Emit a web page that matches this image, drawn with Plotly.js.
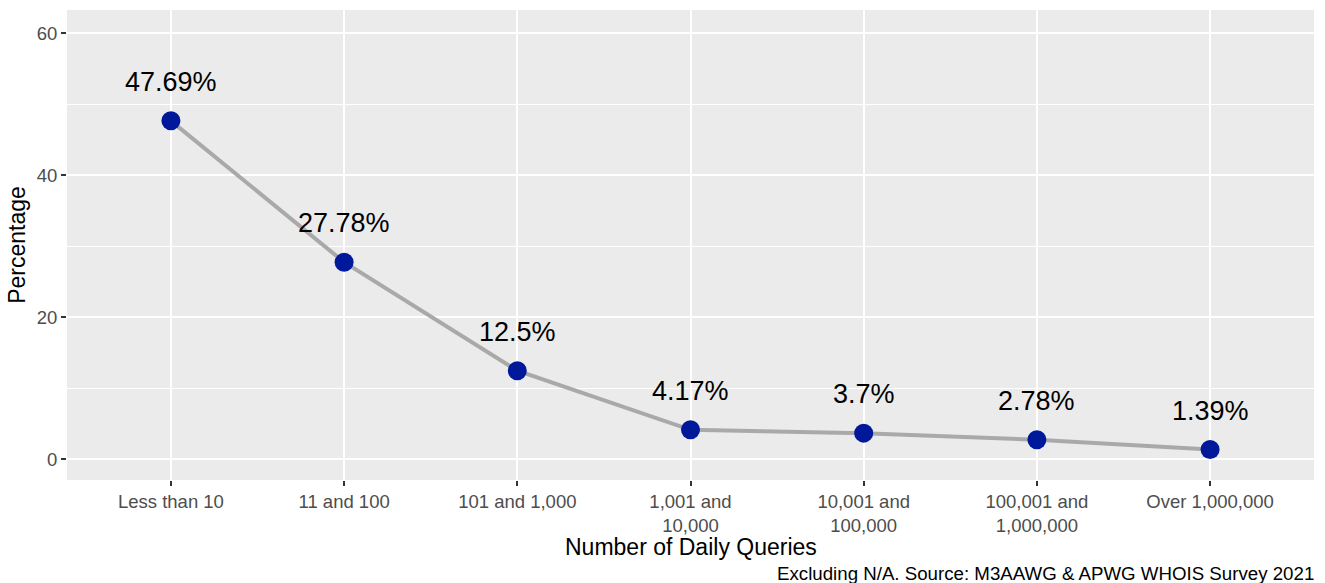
<!DOCTYPE html>
<html>
<head>
<meta charset="utf-8">
<script src="https://cdn.plot.ly/plotly-3.0.1.min.js"></script>
<style>html,body{margin:0;padding:0;background:#fff;}#chart{width:1325px;height:583px;}</style>
</head>
<body>
<div id="chart"></div>
<script>
const categories = ["Less than 10", "11 and 100", "101 and 1,000", "1,001 and 10,000", "10,001 and 100,000", "100,001 and 1,000,000", "Over 1,000,000"];
const tickLabels = ["Less than 10", "11 and 100", "101 and 1,000", "1,001 and<br>10,000", "10,001 and<br>100,000", "100,001 and<br>1,000,000", "Over 1,000,000"];
const percentages = [47.69, 27.78, 12.5, 4.17, 3.7, 2.78, 1.39];
const pointLabels = ["47.69%", "27.78%", "12.5%", "4.17%", "3.7%", "2.78%", "1.39%"];

const FONT = "Liberation Sans, Arial, Helvetica, sans-serif";

const traces = [
  {
    x: categories, y: percentages, type: "scatter", mode: "lines",
    line: {color: "#A9A9A9", width: 4}, hoverinfo: "skip", showlegend: false
  },
  {
    x: categories, y: percentages, type: "scatter", mode: "markers",
    marker: {color: "#00189A", size: 19}, showlegend: false
  }
];

const annotations = categories.map((c, i) => ({
  x: c, y: percentages[i], xref: "x", yref: "y",
  text: pointLabels[i], showarrow: false, yanchor: "middle", yshift: 39,
  font: {family: FONT, size: 27, color: "#000000"}
}));
annotations.push({
  xref: "paper", yref: "paper", x: 0.5, y: 0, xanchor: "center", yanchor: "middle",
  yshift: -67, showarrow: false,
  text: "Number of Daily Queries",
  font: {family: FONT, size: 23, color: "#000000"}
});
annotations.push({
  xref: "paper", yref: "paper", x: 1, y: 0, xanchor: "right", yanchor: "middle",
  yshift: -93, xshift: 2, showarrow: false,
  text: "Excluding N/A. Source: M3AAWG & APWG WHOIS Survey 2021",
  font: {family: FONT, size: 18.7, color: "#000000"}
});

const layout = {
  width: 1325, height: 583,
  margin: {l: 67, r: 11, t: 10, b: 103},
  paper_bgcolor: "#FFFFFF", plot_bgcolor: "#EBEBEB",
  font: {family: FONT},
  showlegend: false,
  xaxis: {
    type: "category", categoryorder: "array", categoryarray: categories,
    range: [-0.6, 6.6],
    tickvals: categories, ticktext: tickLabels,
    showgrid: true, gridcolor: "#FFFFFF", gridwidth: 2,
    zeroline: false, showline: false,
    ticks: "outside", ticklen: 5, tickwidth: 2, tickcolor: "#333333",
    tickfont: {family: FONT, size: 18.5, color: "#4D4D4D"},
    fixedrange: true
  },
  yaxis: {
    range: [-2.9, 63.3],
    tickvals: [0, 20, 40, 60],
    showgrid: true, gridcolor: "#FFFFFF", gridwidth: 2,
    minor: {tickvals: [10, 30, 50], showgrid: true, gridcolor: "#FFFFFF", gridwidth: 1, ticks: ""},
    zeroline: false, showline: false,
    ticks: "outside", ticklen: 5, tickwidth: 2, tickcolor: "#333333",
    tickfont: {family: FONT, size: 18.5, color: "#4D4D4D"},
    title: {text: "Percentage", font: {family: FONT, size: 23, color: "#000000"}, standoff: 4},
    fixedrange: true
  },
  annotations: annotations
};

Plotly.newPlot("chart", traces, layout, {displayModeBar: false, staticPlot: true});
</script>
</body>
</html>
